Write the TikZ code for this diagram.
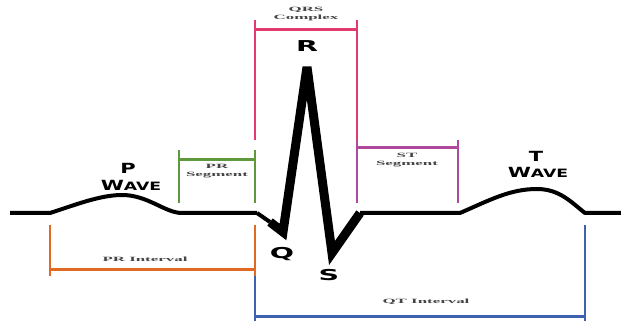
\documentclass[tikz,border=0pt]{standalone}
\usepackage{fontspec}
\setmainfont{Liberation Serif}
\newfontfamily\widefont[FakeStretch=1.5]{DejaVu Sans Bold}
\newfontfamily\widerfont[FakeStretch=1.9]{DejaVu Sans Bold}
\newfontfamily\stretchserif[FakeStretch=2.6]{Liberation Serif Bold}
\definecolor{qrscol}{HTML}{E23A6E}
\definecolor{prscol}{HTML}{5E9A3C}
\definecolor{stcol}{HTML}{B0489E}
\definecolor{pricol}{HTML}{E06A24}
\definecolor{qtcol}{HTML}{3F62B0}
\definecolor{smalltxt}{HTML}{444444}
\tikzset{
  bar/.style={line width=3pt},
  tick/.style={line width=1.2pt},
  tinytext/.style={font=\stretchserif\fontsize{6.5}{7.5}\selectfont, text=smalltxt, align=center, inner sep=0pt},
  bigletter/.style={font=\widefont\fontsize{14}{14}\selectfont, inner sep=0pt},
  spikeletter/.style={font=\widerfont\fontsize{15}{15}\selectfont, inner sep=0pt},
  wave/.style={line width=4pt, line join=round},
  spike/.style={line width=9pt, line join=miter, miter limit=3}
}
\begin{document}
\begin{tikzpicture}[x=1pt,y=-1pt]
\useasboundingbox (0,0) rectangle (621,323);
% waveform
\coordinate (start) at (10,213);
\coordinate (pbeg) at (50,213);
\coordinate (ppeak) at (122,195);
\coordinate (pend) at (182,213);
\coordinate (qbeg) at (257,213);
\coordinate (qpt) at (283,232);
\coordinate (rpt) at (307,67);
\coordinate (spt) at (332,253);
\coordinate (send) at (360,213);
\coordinate (tbeg) at (460,213);
\coordinate (tpeak) at (537,189);
\coordinate (tend) at (585,213);
\coordinate (finish) at (621,213);
\draw[wave] (start) -- (pbeg) .. controls (75,205) and (100,195) .. (ppeak) .. controls (148,195) and (165,213) .. (pend) -- (qbeg);
\draw[wave] (send) -- (tbeg) .. controls (490,200) and (510,189) .. (tpeak) .. controls (560,189) and (572,203) .. (tend) -- (finish);
\draw[wave] (qbeg) -- (270,222);
\draw[spike] (270,222) -- (qpt) -- (rpt) -- (spt) -- (send);

% QRS complex bracket
\coordinate (qrsLtop) at (255,20);
\coordinate (qrsLbot) at (255,140);
\coordinate (qrsRtop) at (357,20);
\coordinate (qrsRbot) at (357,140);
\draw[qrscol, tick] (qrsLtop) -- (qrsLbot);
\draw[qrscol, tick] (qrsRtop) -- (qrsRbot);
\draw[qrscol, bar] (255,30) -- (357,30);
\node[tinytext] (qrslbl) at (306,14) {QRS\\Complex};

% PR segment bracket
\coordinate (prsLtop) at (179,150);
\coordinate (prsLbot) at (179,203);
\coordinate (prsRtop) at (255,150);
\coordinate (prsRbot) at (255,203);
\draw[prscol, tick] (prsLtop) -- (prsLbot);
\draw[prscol, tick] (prsRtop) -- (prsRbot);
\draw[prscol, bar] (179,160) -- (255,160);
\node[tinytext] (prslbl) at (217,171) {PR\\Segment};

% ST segment bracket
\coordinate (stLtop) at (357,140);
\coordinate (stLbot) at (357,203);
\coordinate (stRtop) at (458,140);
\coordinate (stRbot) at (458,203);
\draw[stcol, tick] (stLtop) -- (stLbot);
\draw[stcol, tick] (stRtop) -- (stRbot);
\draw[stcol, bar] (357,148) -- (458,148);
\node[tinytext] (stlbl) at (407,160) {ST\\Segment};

% PR interval bracket
\coordinate (priLtop) at (50,225);
\coordinate (priLbot) at (50,276);
\coordinate (priRtop) at (255,225);
\coordinate (priRbot) at (255,276);
\draw[pricol, tick] (priLtop) -- (priLbot);
\draw[pricol, tick] (priRtop) -- (priRbot);
\draw[pricol, bar] (50,269) -- (255,269);
\node[tinytext] (prilbl) at (145,259) {PR Interval};

% QT interval bracket
\coordinate (qtLtop) at (255,276);
\coordinate (qtLbot) at (255,321);
\coordinate (qtRtop) at (585,225);
\coordinate (qtRbot) at (585,321);
\draw[qtcol, tick] (qtLtop) -- (qtLbot);
\draw[qtcol, tick] (qtRtop) -- (qtRbot);
\draw[qtcol, bar] (255,316) -- (585,316);
\node[tinytext] (qtlbl) at (426,302) {QT Interval};

% wave labels
\node[bigletter] (plbl) at (128,168) {P};
\node[bigletter] (pwave) at (131,185) {W\fontsize{11.5}{11.5}\selectfont AVE};
\node[bigletter] (tlbl) at (536,156) {T};
\node[bigletter] (twave) at (538,172) {W\fontsize{11.5}{11.5}\selectfont AVE};
\node[spikeletter] (rlbl) at (307,46) {R};
\node[spikeletter] (qlbl) at (282,254) {Q};
\node[spikeletter] (slbl) at (329,275) {S};
\end{tikzpicture}
\end{document}
